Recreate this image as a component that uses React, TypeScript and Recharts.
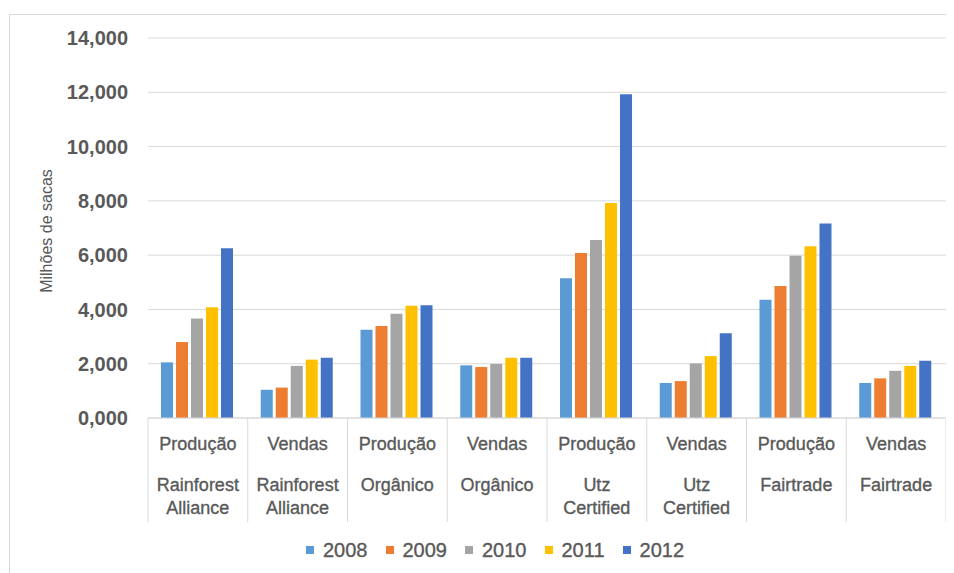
import React from 'react';
import { BarChart, Bar, XAxis, YAxis, CartesianGrid, Legend } from 'recharts';

const typeLabels = ['Produção', 'Vendas', 'Produção', 'Vendas', 'Produção', 'Vendas', 'Produção', 'Vendas'];
const certLabels = [
  ['Rainforest', 'Alliance'],
  ['Rainforest', 'Alliance'],
  ['Orgânico'],
  ['Orgânico'],
  ['Utz', 'Certified'],
  ['Utz', 'Certified'],
  ['Fairtrade'],
  ['Fairtrade'],
];
const years = ['2008', '2009', '2010', '2011', '2012'];
const colors = ['#5B9BD5', '#ED7D31', '#A5A5A5', '#FFC000', '#4472C4'];

const s2008 = [2.05, 1.04, 3.25, 1.94, 5.15, 1.29, 4.36, 1.29];
const s2009 = [2.8, 1.12, 3.39, 1.88, 6.08, 1.36, 4.86, 1.46];
const s2010 = [3.67, 1.92, 3.84, 1.99, 6.56, 2.01, 5.98, 1.74];
const s2011 = [4.08, 2.15, 4.14, 2.22, 7.92, 2.28, 6.33, 1.92];
const s2012 = [6.25, 2.22, 4.15, 2.22, 11.93, 3.12, 7.17, 2.11];
const yTicks = [0, 2, 4, 6, 8, 10, 12, 14];

const series = [s2008, s2009, s2010, s2011, s2012];

const data = typeLabels.map((t, i) => {
  const row: any = { key: String(i) };
  years.forEach((y, k) => {
    row[y] = series[k][i];
  });
  return row;
});

const FONT = '"Liberation Sans", Arial, sans-serif';
const TXT = '#595959';
const GRID = '#D9D9D9';

const CatTick = (props: any) => {
  const { x, y, payload, index } = props;
  const i = Number(payload.value);
  const off = payload.offset || 49.875;
  const lines = certLabels[i] || [];
  const last = index === typeLabels.length - 1;
  return (
    <g>
      <line x1={x - off} x2={x - off} y1={y} y2={y + 104} stroke={GRID} strokeWidth={1} />
      {last && <line x1={x + off} x2={x + off} y1={y} y2={y + 104} stroke={GRID} strokeWidth={1} />}
      <text x={x} y={y + 32} textAnchor="middle" fill={TXT} stroke={TXT} strokeWidth={0.35} fontSize={18} fontFamily={FONT}>
        {typeLabels[i]}
      </text>
      {lines.map((l, k) => (
        <text key={k} x={x} y={y + 73 + k * 23} textAnchor="middle" fill={TXT} stroke={TXT} strokeWidth={0.35} fontSize={18} fontFamily={FONT}>
          {l}
        </text>
      ))}
    </g>
  );
};

const LegendContent = (props: any) => {
  const { payload } = props;
  return (
    <div
      style={{
        display: 'flex',
        alignItems: 'center',
        gap: 18,
        fontFamily: FONT,
        fontSize: 20,
        lineHeight: '20px',
        color: TXT,
        WebkitTextStroke: '0.35px #595959',
      }}
    >
      {(payload || []).map((p: any) => (
        <div key={p.value} style={{ display: 'flex', alignItems: 'center' }}>
          <span style={{ width: 8, height: 8, background: p.color, marginRight: 9, display: 'inline-block' }} />
          <span>{p.value}</span>
        </div>
      ))}
    </div>
  );
};

const YTitle = (props: any) => {
  const vb = props.viewBox || {};
  const cx = 44;
  const cy = (vb.y || 0) + (vb.height || 0) / 2 + 3;
  return (
    <text x={cx} y={cy} transform={`rotate(-90, ${cx}, ${cy})`} textAnchor="middle" fill={TXT} fontSize={16} fontFamily={FONT}>
      Milhões de sacas
    </text>
  );
};

export default function App() {
  return (
    <div style={{ position: 'relative', width: 946, height: 565, overflow: 'hidden', background: '#fff' }}>
      <div
        style={{
          position: 'absolute',
          left: 1,
          top: 6,
          width: 945,
          height: 559,
          borderLeft: '1.5px solid #D9D9D9',
          borderTop: '1.5px solid #D9D9D9',
          boxSizing: 'border-box',
        }}
      />
      <div style={{ position: 'absolute', left: 0, top: 0 }}>
        <BarChart
          width={946}
          height={565}
          data={data}
          margin={{ top: 30, right: 8, left: 0, bottom: 45 }}
          barCategoryGap={13}
          barGap={3}
        >
          <CartesianGrid vertical={false} stroke={GRID} strokeWidth={1} />
          <XAxis
            dataKey="key"
            height={110}
            interval={0}
            tickLine={false}
            tickSize={0}
            tickMargin={0}
            axisLine={{ stroke: GRID, strokeWidth: 1 }}
            tick={<CatTick />}
          />
          <YAxis
            width={140}
            domain={[0, 14]}
            ticks={yTicks}
            interval={0}
            axisLine={false}
            tickLine={false}
            tickSize={0}
            tickMargin={20}
            tickFormatter={(v: number) => v.toFixed(3).replace('.', ',')}
            tick={{ fill: TXT, fontSize: 20, fontWeight: 'bold', fontFamily: FONT }}
            label={<YTitle />}
          />
          <Legend
            layout="horizontal"
            verticalAlign="middle"
            align="center"
            wrapperStyle={{ left: 298, top: 532, width: 500 }}
            content={<LegendContent />}
          />
          {years.map((y, k) => (
            <Bar key={y} dataKey={y} fill={colors[k]} isAnimationActive={false} />
          ))}
        </BarChart>
      </div>
    </div>
  );
}
